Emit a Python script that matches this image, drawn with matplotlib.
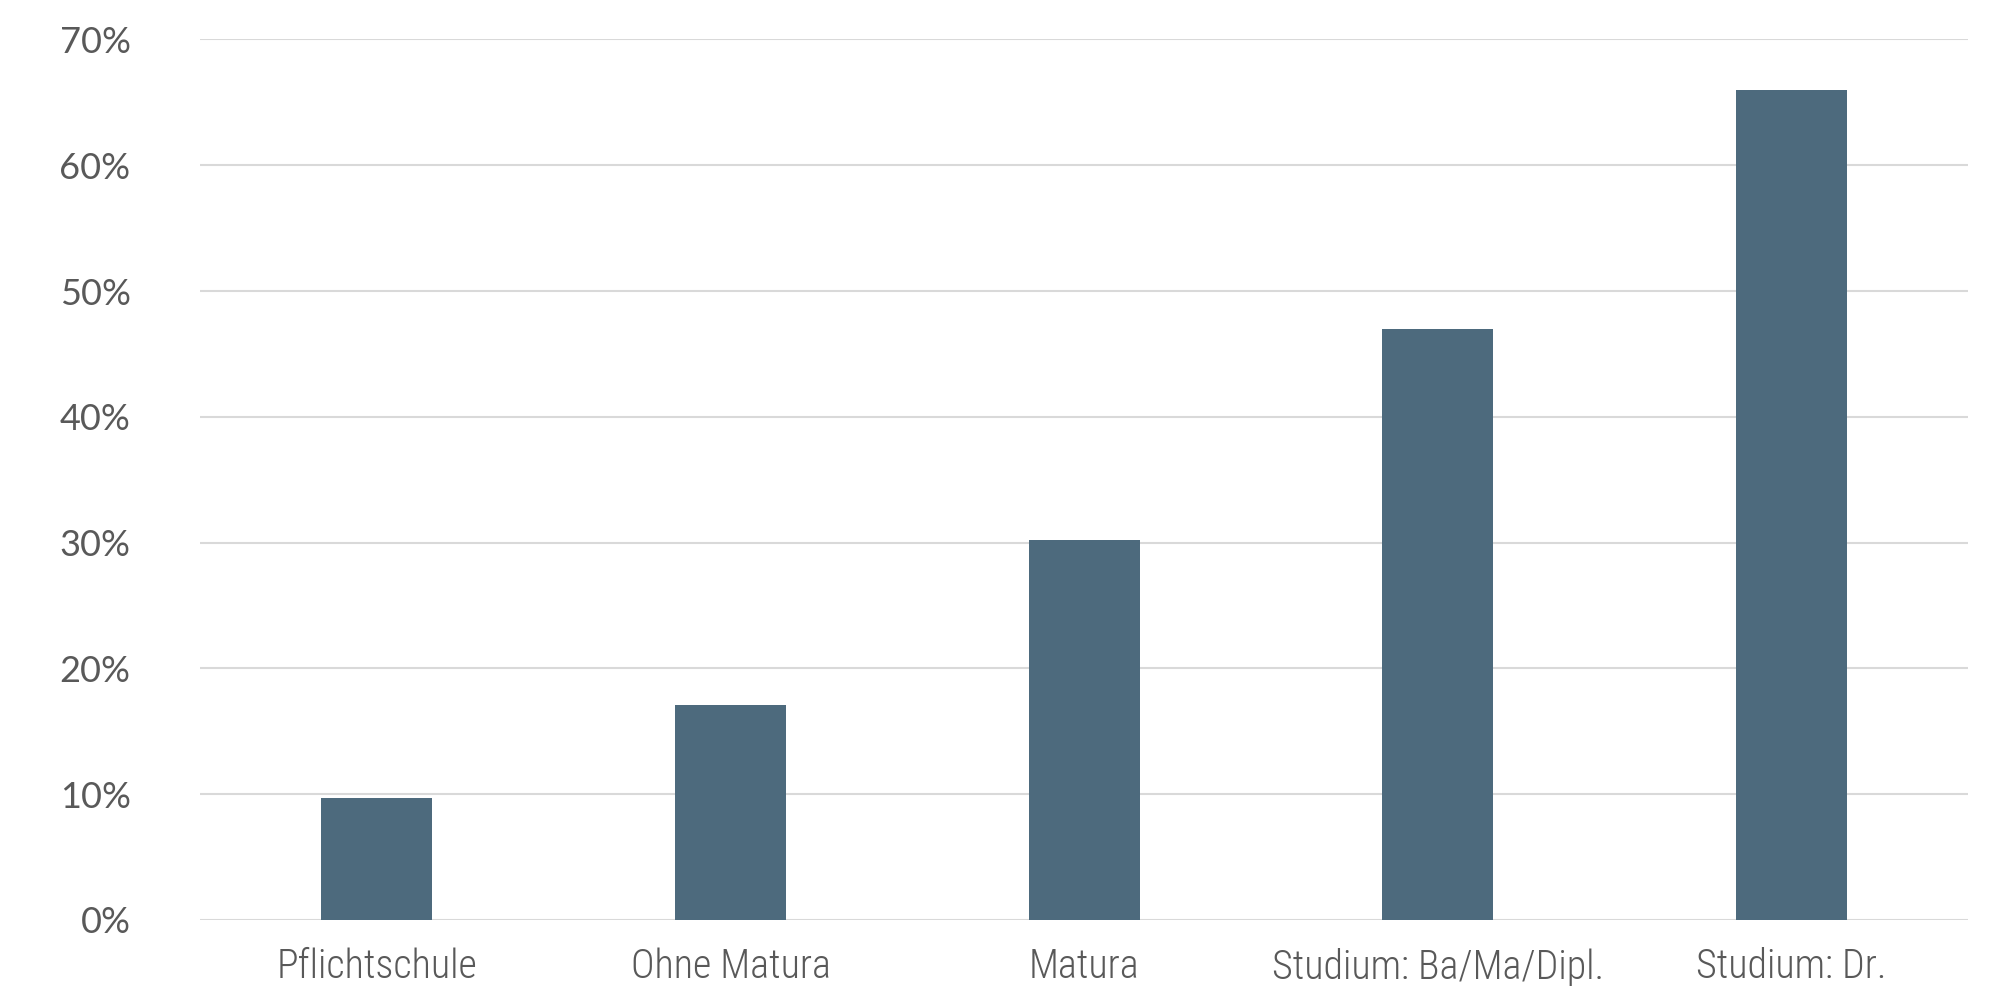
import matplotlib
matplotlib.use('Agg')
import matplotlib.pyplot as plt
from matplotlib import font_manager
from matplotlib.ticker import FuncFormatter

categories = ['Pflichtschule', 'Ohne Matura', 'Matura', 'Studium: Ba/Ma/Dipl.', 'Studium: Dr.']
values = [9.7, 17.1, 30.2, 47.0, 66.0]
yticks = [0, 10, 20, 30, 40, 50, 60, 70]

bar_color = '#4d6a7d'
text_color = '#595959'
grid_color = '#d9d9d9'

# narrow font for the category labels if one is around
names = set(f.name for f in font_manager.fontManager.ttflist)
xfont, xsize = 'Lato', 22.5
for cand in ['Liberation Sans Narrow', 'Roboto Condensed', 'Open Sans Condensed']:
	if cand in names:
		xfont, xsize = cand, 28.8
		break

fig = plt.figure(figsize=(19.98, 9.86), dpi=100)
ax = fig.add_axes([0.1001, 0.067, 0.885, 0.893])

x = range(len(categories))
ax.bar(x, values, width=0.314, color=bar_color, zorder=3)

ax.set_xlim(-0.5, len(categories) - 0.5)
ax.set_ylim(0, 70)
ax.set_yticks(yticks)
ax.yaxis.set_major_formatter(FuncFormatter(lambda v, p: '%d%%' % v))
ax.set_xticks(list(x))
ax.set_xticklabels(categories)

ax.grid(axis='y', color=grid_color, linewidth=1.5, zorder=0)
for s in ax.spines.values():
	s.set_visible(False)
ax.tick_params(axis='both', length=0, colors=text_color)
ax.tick_params(axis='y', pad=50, labelsize=26)
ax.tick_params(axis='x', pad=20, labelsize=xsize)
for lab in ax.get_yticklabels():
	lab.set_family(['Lato', 'DejaVu Sans'])
for lab in ax.get_xticklabels():
	lab.set_family([xfont, 'DejaVu Sans'])
	lab.set_fontweight('light')

fig.savefig('out.png', dpi=100)
